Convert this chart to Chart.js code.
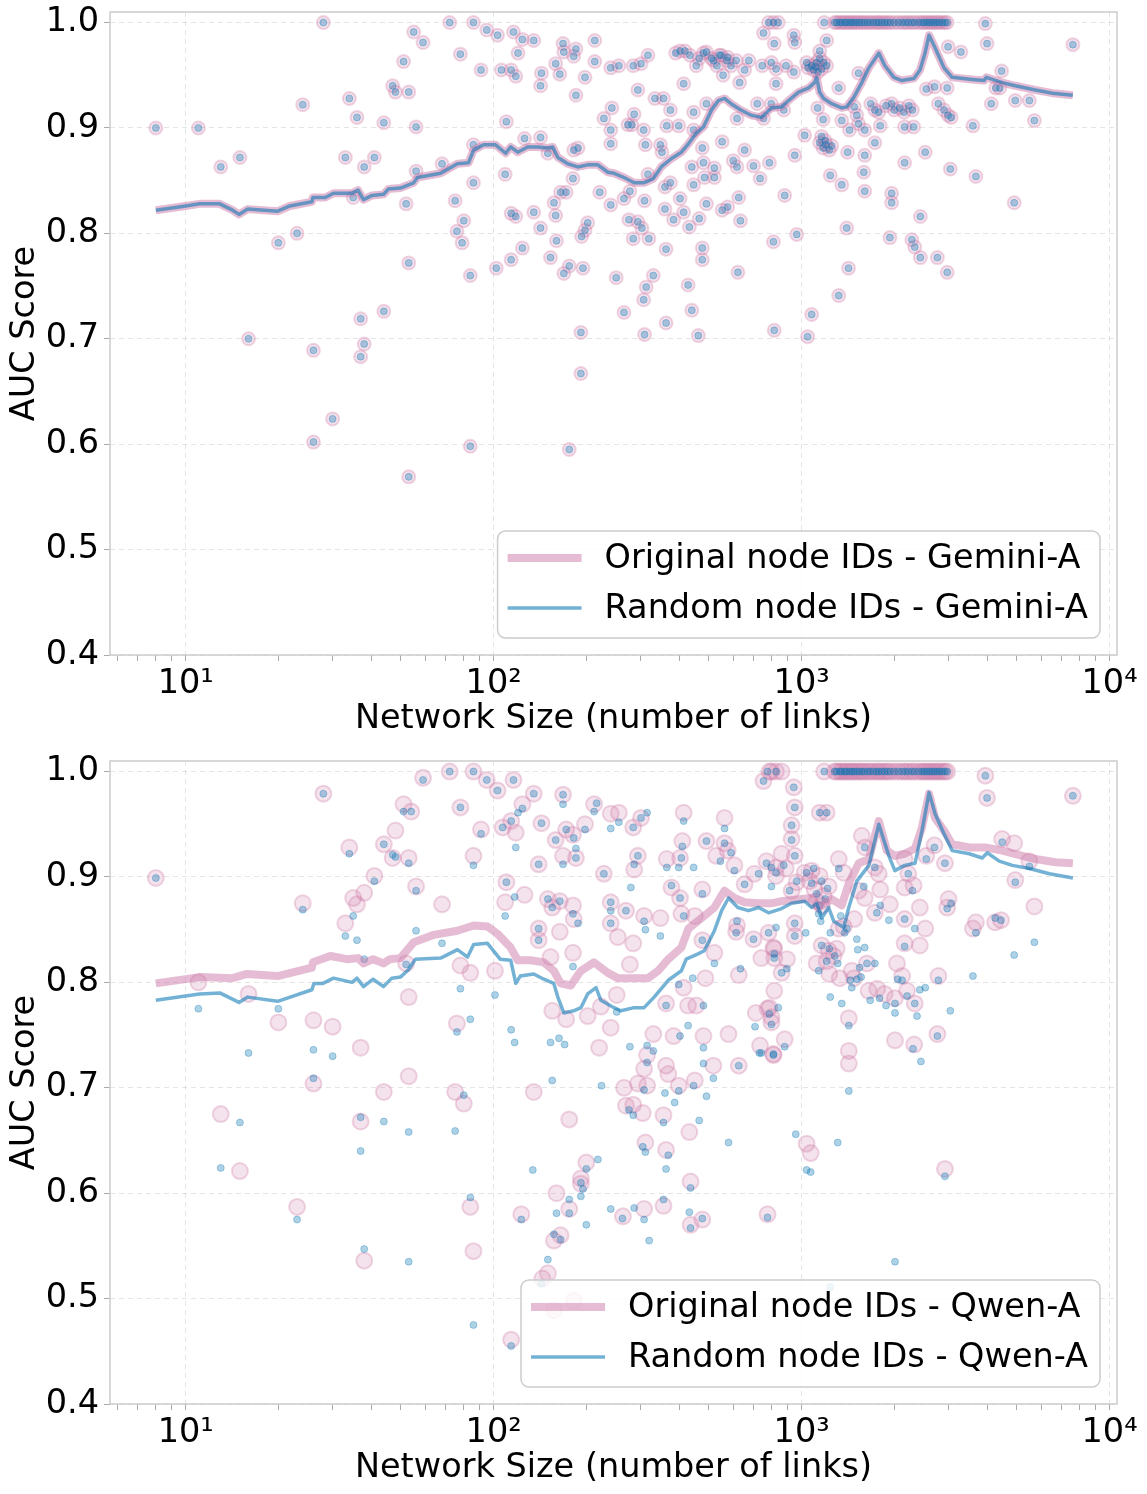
<!DOCTYPE html>
<html>
<head>
<meta charset="utf-8">
<script src="https://cdn.jsdelivr.net/npm/chart.js@4.4.1/dist/chart.umd.min.js"></script>
<style>
  html, body { margin: 0; padding: 0; background: #fff; }
  #wrap { position: relative; width: 1147px; height: 1494px; }
  canvas { position: absolute; left: 0; }
</style>
</head>
<body>
<div id="wrap">
  <canvas id="gemini" width="1147" height="747" style="top:0"></canvas>
  <canvas id="qwen" width="1147" height="747" style="top:747px"></canvas>
</div>
<script>
// ---- axis ticks ----
const xTicks = [6, 7, 8, 9, 10, 20, 30, 40, 50, 60, 70, 80, 90, 100, 200, 300, 400, 500, 600, 700, 800, 900,
  1000, 2000, 3000, 4000, 5000, 6000, 7000, 8000, 9000, 10000];
const xTickLabels = { 10: '10¹', 100: '10²', 1000: '10³', 10000: '10⁴' };
const yTicks = [0.4, 0.5, 0.6, 0.7, 0.8, 0.9, 1.0];

// networks that reach AUC = 1.0 (both models)
const perfectSize = [1280, 1300, 1330, 1350, 1380, 1400, 1430, 1455, 1480, 1510,
  1540, 1570, 1600, 1640, 1670, 1710, 1750, 1780, 1820, 1860,
  1900, 1940, 2000, 2060, 2120, 2170, 2220, 2280, 2330, 2400,
  2460, 2500, 2550, 2600, 2650, 2700, 2750, 2800, 2860, 2920, 2970];
const perfectAuc = [1, 1, 1, 1, 1, 1, 1, 1, 1, 1,
  1, 1, 1, 1, 1, 1, 1, 1, 1, 1,
  1, 1, 1, 1, 1, 1, 1, 1, 1, 1,
  1, 1, 1, 1, 1, 1, 1, 1, 1, 1, 1];

// ---- Gemini-A (original and random IDs give the same scores) ----
const gemSize = [8, 11, 13, 15, 16, 20, 23, 24, 26, 26,
  28, 30, 33, 34, 35, 36, 37, 38, 38, 37,
  41, 44, 44, 47, 48, 51, 52, 53, 53, 55,
  53, 56, 56, 59, 68, 72, 75, 76, 78, 79,
  80, 84, 84, 86, 86, 86, 91, 95, 102, 103,
  106, 109, 110, 114, 118, 114, 114, 116, 118, 120,
  124, 124, 126, 135, 135, 142, 142, 143, 142, 150,
  153, 157, 159, 159, 160, 164, 165, 172, 168, 169,
  182, 185, 169, 176, 176, 181, 182, 188, 185, 192,
  192, 195, 193, 202, 198, 198, 213, 213, 221, 228,
  240, 240, 240, 242, 240, 255, 250, 265, 265, 273,
  281, 275, 277, 284, 286, 284, 294, 294, 303, 301,
  317, 307, 311, 309, 317, 319, 307, 313, 309, 330,
  334, 356, 348, 352, 360, 384, 363, 363, 375, 360,
  375, 365, 399, 390, 403, 414, 403, 414, 432, 428,
  440, 440, 446, 446, 446, 462, 465, 476, 480, 476,
  476, 484, 491, 491, 480, 510, 541, 575, 521, 521,
  552, 552, 575, 556, 600, 617, 617, 625, 633, 621,
  629, 653, 653, 674, 698, 718, 733, 752, 752, 781,
  810, 840, 786, 810, 815, 815, 826, 745, 797, 875,
  881, 950, 964, 943, 950, 890, 943, 1023, 1046, 1078,
  1038, 1078, 1119, 1162, 1206, 1094, 1145, 1145, 1184, 1206,
  1127, 1175, 1145, 1193, 1230, 1252, 1175, 1239, 1320, 1350,
  1320, 1401, 1420, 1410, 1350, 1430, 1482, 1511, 1531, 1531,
  1592, 1603, 1603, 1603, 1729, 1677, 1780, 1729, 1800, 1880,
  1960, 2000, 2080, 2150, 2230, 2290, 1960, 1960, 1935, 2160,
  2160, 2310, 2280, 2330, 2430, 2430, 2520, 2540, 2700, 2760,
  2780, 2900, 2990, 3060, 2970, 2990, 2970, 3040, 3290, 3600,
  3680, 3950, 4000, 4130, 4270, 4400, 4460, 4900, 4940, 5490,
  5700, 7600, 418, 434, 465, 491, 517, 548, 571, 590,
  613, 455, 531, 798, 826, 1050, 1110, 1180, 1130, 1200,
  1160].concat(perfectSize);
const gemAuc = [0.900, 0.900, 0.863, 0.872, 0.700, 0.791, 0.800, 0.922, 0.689, 0.602,
  1.0, 0.624, 0.872, 0.928, 0.834, 0.910, 0.719, 0.863, 0.695, 0.683,
  0.872, 0.905, 0.726, 0.940, 0.934, 0.963, 0.828, 0.772, 0.569, 0.991,
  0.934, 0.901, 0.859, 0.981, 0.866, 1.0, 0.831, 0.802, 0.970, 0.791,
  0.812, 0.760, 0.598, 0.884, 1.0, 0.848, 0.955, 0.993, 0.767, 0.988,
  0.955, 0.856, 0.906, 0.819, 0.816, 0.775, 0.955, 0.991, 0.949, 0.971,
  0.984, 0.786, 0.890, 0.983, 0.820, 0.805, 0.940, 0.952, 0.891, 0.876,
  0.777, 0.829, 0.817, 0.961, 0.793, 0.951, 0.839, 0.839, 0.980, 0.972,
  0.968, 0.975, 0.762, 0.769, 0.595, 0.852, 0.879, 0.881, 0.931, 0.706,
  0.667, 0.767, 0.797, 0.810, 0.803, 0.948, 0.983, 0.963, 0.839, 0.909,
  0.827, 0.898, 0.885, 0.919, 0.957, 0.959, 0.758, 0.725, 0.833, 0.903,
  0.903, 0.813, 0.840, 0.795, 0.913, 0.959, 0.936, 0.811, 0.805, 0.961,
  0.969, 0.898, 0.884, 0.831, 0.856, 0.795, 0.737, 0.749, 0.704, 0.760,
  0.928, 0.928, 0.884, 0.877, 0.823, 0.813, 0.785, 0.715, 0.917, 0.844,
  0.848, 0.902, 0.902, 0.971, 0.973, 0.942, 0.833, 0.820, 0.806, 0.751,
  0.727, 0.863, 0.915, 0.846, 0.898, 0.703, 0.814, 0.881, 0.867, 0.786,
  0.775, 0.853, 0.828, 0.923, 0.971, 0.966, 0.969, 0.967, 0.862, 0.853,
  0.887, 0.822, 0.825, 0.950, 0.869, 0.863, 0.909, 0.834, 0.812, 0.763,
  0.943, 0.879, 0.955, 0.964, 0.864, 0.923, 0.852, 0.990, 0.909, 1.0,
  1.0, 1.0, 0.867, 0.792, 0.708, 0.980, 0.942, 0.959, 0.923, 0.917,
  0.836, 0.874, 0.799, 0.988, 0.981, 0.959, 0.953, 0.893, 0.702, 0.723,
  0.962, 0.959, 0.962, 0.956, 0.959, 0.955, 0.966, 0.973, 1.0, 0.983,
  0.919, 0.908, 0.886, 0.888, 0.879, 0.883, 0.881, 0.855, 0.938, 0.846,
  0.741, 0.805, 0.767, 0.877, 0.907, 0.898, 0.920, 0.912, 0.904, 0.952,
  0.858, 0.874, 0.840, 0.898, 0.886, 0.923, 0.915, 0.917, 0.902, 0.921,
  0.923, 0.917, 0.919, 0.915, 0.921, 0.917, 0.838, 0.829, 0.796, 0.867,
  0.901, 0.901, 0.794, 0.787, 0.816, 0.777, 0.877, 0.937, 0.939, 0.777,
  0.923, 0.917, 0.912, 0.910, 0.938, 0.977, 0.763, 0.861, 0.972, 0.902,
  0.854, 0.999, 0.980, 0.923, 0.938, 0.938, 0.954, 0.829, 0.926, 0.926,
  0.907, 0.979, 0.973, 0.969, 0.966, 0.972, 0.964, 0.969, 0.964, 0.959,
  0.964, 0.959, 0.959, 0.962, 0.956, 0.957, 0.958, 0.962, 0.953, 0.884,
  0.892].concat(perfectAuc);

// running average (shared by both Gemini curves)
const gemLineSize = [8, 10, 11.1, 12.9, 14.2, 14.9, 15.9, 19.9, 21.8, 25.7,
  25.9, 28.4, 30.2, 34.7, 36.3, 37.8, 40.3, 43.9, 45.5, 49.8,
  55, 56.6, 67.3, 76.3, 82.9, 86.1, 92.8, 101.5, 109.4, 113.6,
  119.7, 129, 139, 150, 155.6, 161.6, 174, 187.7, 202, 218,
  235, 246, 265, 286, 308, 330, 350, 378, 407, 429,
  455, 480, 510, 537, 562, 590, 635, 685, 740, 798,
  861, 907, 978, 1054, 1102, 1119, 1144, 1179, 1252, 1350,
  1401, 1477, 1568, 1653, 1781, 1864, 1993, 2117, 2316, 2424,
  2516, 2593, 2712, 2900, 3082, 3580, 3917, 3977, 4484, 4942,
  5743, 6525, 7600];
const gemLineAuc = [0.822, 0.826, 0.828, 0.828, 0.822, 0.818, 0.823, 0.821, 0.826, 0.830,
  0.834, 0.834, 0.838, 0.838, 0.841, 0.832, 0.836, 0.837, 0.842, 0.843,
  0.848, 0.853, 0.857, 0.866, 0.867, 0.879, 0.884, 0.884, 0.876, 0.882,
  0.877, 0.882, 0.882, 0.881, 0.882, 0.872, 0.866, 0.863, 0.865, 0.865,
  0.858, 0.857, 0.853, 0.848, 0.848, 0.852, 0.863, 0.871, 0.877, 0.885,
  0.895, 0.901, 0.917, 0.926, 0.928, 0.923, 0.917, 0.912, 0.910, 0.919,
  0.920, 0.926, 0.934, 0.938, 0.943, 0.948, 0.934, 0.928, 0.923, 0.919,
  0.920, 0.929, 0.943, 0.957, 0.971, 0.959, 0.948, 0.945, 0.947, 0.955,
  0.971, 0.988, 0.976, 0.957, 0.948, 0.946, 0.945, 0.948, 0.943, 0.940,
  0.936, 0.933, 0.931];

// ---- Qwen-A ----
const qwenOrigSize = [8, 11, 13, 16, 15, 20, 23, 24, 26, 26,
  28, 30, 33, 34, 35, 36, 37, 38, 37, 38,
  41, 44, 44, 47, 48, 51, 53, 52, 53, 53,
  54, 56, 59, 68, 72, 75, 78, 78, 76, 80,
  84, 84, 86, 86, 86, 91, 95, 101, 103, 107,
  110, 109, 116, 114, 118, 114, 123, 124, 126, 135,
  135, 140, 140, 140, 143, 150, 150, 144, 153, 155,
  155, 157, 159, 160, 164, 164, 165, 168, 168, 172,
  172, 176, 176, 181, 185, 181, 182, 181, 182, 157,
  192, 192, 200, 198, 202, 212, 223, 220, 228, 240,
  255, 240, 240, 253, 269, 240, 251, 265, 269, 263,
  277, 284, 284, 286, 294, 301, 284, 305, 294, 315,
  308, 308, 315, 308, 311, 330, 348, 363, 363, 369,
  356, 363, 356, 384, 378, 365, 399, 403, 407, 410,
  403, 414, 428, 414, 432, 436, 436, 450, 450, 455,
  476, 476, 491, 480, 517, 487, 476, 521, 562, 562,
  528, 575, 605, 625, 579, 625, 617, 613, 653, 702,
  698, 710, 733, 786, 798, 810, 781, 810, 815, 826,
  798, 752, 775, 861, 769, 826, 888, 964, 928, 943,
  950, 928, 928, 950, 786, 826, 861, 815, 775, 798,
  861, 896, 815, 950, 950, 740, 810, 881, 1145, 1206,
  1023, 1062, 1102, 1145, 1179, 1224, 1119, 1078, 1162, 1320,
  1370, 1568, 1608, 1729, 1780, 1531, 1800, 1603, 1729, 1935,
  1482, 1320, 1370, 2160, 2220, 2160, 2310, 2420, 2540, 2700,
  2920, 2520, 2160, 3000, 2970, 3680, 3600, 4250, 4440, 5700,
  4940, 4480, 4900, 5490, 2160, 2420, 2040, 2120, 2780, 2330,
  2200, 2010, 1860, 1650, 1760, 2010, 2320, 2760, 1224, 1162,
  1271, 1206, 1300, 1119, 1230, 1330, 1455, 1480, 1630, 1423,
  1423, 1423, 2920, 3950, 4000, 7600, 1184, 1038, 1070].concat(perfectSize);
const qwenOrigAuc = [0.899, 0.800, 0.675, 0.789, 0.621, 0.762, 0.587, 0.875, 0.764, 0.704,
  0.979, 0.758, 0.856, 0.928, 0.880, 0.874, 0.738, 0.885, 0.668, 0.536,
  0.901, 0.931, 0.696, 0.918, 0.944, 0.969, 0.711, 0.818, 0.786, 0.918,
  0.962, 0.891, 0.994, 0.874, 1.0, 0.696, 0.966, 0.816, 0.761, 0.685,
  0.809, 0.587, 0.545, 1.0, 0.920, 0.945, 0.992, 0.811, 0.982, 0.947,
  0.895, 0.876, 0.992, 0.953, 0.942, 0.461, 0.580, 0.969, 0.883, 0.979,
  0.696, 0.912, 0.851, 0.840, 0.951, 0.879, 0.524, 0.519, 0.824, 0.871,
  0.773, 0.555, 0.935, 0.600, 0.877, 0.848, 0.560, 0.920, 0.978, 0.945,
  0.765, 0.670, 0.585, 0.940, 0.918, 0.873, 0.860, 0.828, 0.498, 0.489,
  0.614, 0.609, 0.629, 0.950, 0.768, 0.969, 0.777, 0.738, 0.903, 0.960,
  0.961, 0.876, 0.856, 0.843, 0.868, 0.757, 0.788, 0.700, 0.683, 0.578,
  0.817, 0.947, 0.837, 0.907, 0.920, 0.956, 0.684, 0.676, 0.704, 0.702,
  0.863, 0.718, 0.731, 0.585, 0.648, 0.751, 0.861, 0.780, 0.721, 0.713,
  0.674, 0.641, 0.588, 0.749, 0.890, 0.917, 0.702, 0.880, 0.865, 0.934,
  0.918, 0.961, 0.778, 0.795, 0.658, 0.611, 0.570, 0.863, 0.707, 0.778,
  0.840, 0.888, 0.934, 0.749, 0.721, 0.804, 0.575, 0.828, 0.956, 0.932,
  0.920, 0.925, 0.911, 0.807, 0.751, 0.721, 0.854, 0.848, 0.893, 0.903,
  0.841, 0.771, 0.740, 0.776, 0.762, 0.731, 0.847, 0.833, 0.823, 0.909,
  1.0, 0.991, 0.580, 0.922, 0.915, 0.901, 0.908, 0.895, 0.887, 0.985,
  0.966, 0.949, 0.936, 0.920, 1.0, 1.0, 1.0, 0.792, 0.775, 0.767,
  0.809, 0.822, 0.832, 0.856, 0.844, 0.823, 0.732, 0.746, 0.961, 0.961,
  0.904, 0.896, 0.888, 0.901, 0.882, 0.891, 0.877, 0.906, 0.873, 0.917,
  0.904, 0.939, 0.928, 0.909, 0.903, 0.887, 0.888, 0.880, 0.866, 0.874,
  0.860, 0.851, 0.853, 0.917, 0.903, 0.890, 0.892, 0.871, 0.920, 0.930,
  0.913, 0.851, 0.860, 0.879, 0.871, 0.857, 0.851, 0.857, 0.859, 0.872,
  0.897, 0.936, 0.932, 0.915, 0.837, 0.835, 0.818, 0.806, 0.806, 0.780,
  0.792, 0.785, 0.789, 0.792, 0.794, 0.745, 0.741, 0.751, 0.830, 0.835,
  0.825, 0.820, 0.832, 0.818, 0.808, 0.804, 0.811, 0.804, 0.818, 0.766,
  0.735, 0.723, 0.623, 0.996, 0.975, 0.977, 1.0, 0.647, 0.638].concat(perfectAuc);

const qwenRandSize = [8, 11, 13, 15, 16, 20, 23, 24, 26, 26,
  28, 30, 33, 34, 35, 36, 38, 37, 37, 38,
  41, 44, 44, 47, 48, 51, 53, 53, 52, 53,
  54, 56, 56, 59, 68, 72, 75, 78, 78, 76,
  80, 84, 84, 86, 86, 86, 91, 95, 101, 103,
  107, 110, 109, 117, 118, 116, 114, 120, 114, 117,
  114, 123, 124, 135, 134, 140, 140, 140, 143, 150,
  150, 143, 155, 153, 163, 170, 155, 157, 165, 159,
  160, 164, 168, 168, 168, 172, 176, 176, 182, 185,
  185, 181, 188, 181, 192, 195, 192, 200, 200, 218,
  198, 216, 212, 228, 224, 240, 255, 240, 240, 240,
  269, 251, 275, 284, 262, 240, 286, 308, 284, 277,
  286, 294, 279, 301, 315, 308, 311, 348, 363, 315,
  315, 330, 308, 360, 356, 305, 311, 369, 363, 320,
  356, 387, 399, 446, 403, 378, 365, 403, 414, 410,
  407, 399, 414, 399, 428, 432, 436, 436, 465, 491,
  446, 476, 476, 491, 480, 480, 480, 517, 443, 476,
  521, 562, 562, 545, 590, 605, 633, 625, 617, 613,
  653, 725, 698, 706, 729, 786, 798, 810, 781, 815,
  798, 775, 826, 752, 840, 579, 775, 861, 896, 815,
  826, 950, 950, 1031, 810, 881, 740, 943, 950, 928,
  928, 950, 769, 826, 875, 964, 914, 798, 957, 1038,
  1070, 1310, 1423, 2010, 1239, 2920, 1038, 1078, 1119, 1162,
  1193, 1094, 1145, 1214, 1145, 1206, 1136, 1153, 1239, 1340,
  1380, 1401, 1162, 1230, 1281, 1206, 1310, 1136, 1543, 1511,
  1440, 1560, 1630, 1729, 1455, 1511, 1522, 1603, 1592, 1320,
  1603, 1729, 1800, 1755, 2220, 2290, 2540, 2700, 2920, 2330,
  2160, 1920, 3060, 2970, 3680, 4250, 4440, 4900, 5700, 3600,
  4940, 4480, 5490, 2160, 2050, 2120, 2780, 2520, 2420, 2330,
  2370, 2200, 2010, 2010, 1790, 1880, 1670, 2300, 2440, 2760,
  3040, 1239, 1350, 1423, 3950, 4000, 7600, 1184].concat(perfectSize);
const qwenRandAuc = [0.899, 0.775, 0.624, 0.667, 0.733, 0.775, 0.575, 0.869, 0.736, 0.709,
  0.979, 0.730, 0.844, 0.922, 0.863, 0.840, 0.822, 0.672, 0.640, 0.547,
  0.896, 0.931, 0.668, 0.921, 0.919, 0.962, 0.658, 0.535, 0.817, 0.913,
  0.962, 0.887, 0.849, 0.992, 0.837, 1.0, 0.659, 0.966, 0.794, 0.753,
  0.693, 0.765, 0.596, 0.475, 1.0, 0.911, 0.941, 0.992, 0.788, 0.982,
  0.947, 0.895, 0.863, 0.881, 0.928, 0.992, 0.953, 0.961, 0.755, 0.743,
  0.455, 0.575, 0.965, 0.979, 0.622, 0.912, 0.851, 0.840, 0.951, 0.879,
  0.537, 0.514, 0.707, 0.743, 0.747, 0.741, 0.871, 0.561, 0.556, 0.935,
  0.581, 0.877, 0.912, 0.978, 0.969, 0.945, 0.594, 0.581, 0.937, 0.927,
  0.918, 0.865, 0.856, 0.815, 0.610, 0.604, 0.597, 0.623, 0.570, 0.632,
  0.945, 0.970, 0.962, 0.903, 0.702, 0.946, 0.952, 0.876, 0.868, 0.856,
  0.868, 0.772, 0.679, 0.674, 0.576, 0.585, 0.586, 0.575, 0.947, 0.739,
  0.912, 0.920, 0.890, 0.956, 0.961, 0.858, 0.850, 0.844, 0.778, 0.740,
  0.724, 0.735, 0.698, 0.695, 0.667, 0.644, 0.639, 0.636, 0.623, 0.555,
  0.594, 0.686, 0.697, 0.702, 0.749, 0.892, 0.909, 0.880, 0.863, 0.929,
  0.918, 0.909, 0.953, 0.798, 0.759, 0.582, 0.605, 0.567, 0.669, 0.692,
  0.909, 0.884, 0.840, 0.934, 0.778, 0.738, 0.723, 0.709, 0.804, 0.576,
  0.818, 0.946, 0.932, 0.915, 0.923, 0.906, 0.813, 0.721, 0.858, 0.847,
  0.893, 0.903, 0.841, 0.758, 0.733, 0.770, 0.760, 0.731, 0.847, 0.823,
  0.909, 1.0, 1.0, 0.991, 0.776, 0.648, 0.577, 0.809, 0.813, 0.827,
  0.852, 0.856, 0.844, 0.847, 0.732, 0.739, 0.733, 0.985, 0.966, 0.949,
  0.935, 0.920, 0.913, 0.904, 0.911, 0.896, 0.887, 0.891, 0.656, 0.622,
  0.620, 0.648, 0.697, 0.535, 0.511, 0.616, 0.904, 0.894, 0.884, 0.896,
  0.879, 0.908, 0.873, 0.889, 0.961, 0.961, 0.865, 0.858, 0.847, 0.863,
  0.847, 0.851, 0.835, 0.832, 0.825, 0.820, 0.818, 0.811, 0.814, 0.803,
  0.802, 0.805, 0.818, 0.818, 0.795, 0.841, 0.831, 0.833, 0.891, 0.908,
  0.928, 0.909, 0.873, 0.866, 0.903, 0.887, 0.917, 0.928, 0.913, 0.851,
  0.860, 0.859, 0.875, 0.870, 0.847, 0.861, 0.859, 0.826, 0.838, 0.806,
  0.895, 0.933, 0.910, 0.834, 0.803, 0.802, 0.802, 0.795, 0.793, 0.780,
  0.768, 0.787, 0.780, 0.771, 0.785, 0.778, 0.783, 0.737, 0.725, 0.749,
  0.773, 0.786, 0.780, 0.759, 0.996, 0.975, 0.977, 1.0].concat(perfectAuc);

const qwenOrigLineSize = [8, 11.1, 14.2, 15.8, 19.9, 25.7, 25.9, 29.5, 33.4, 36.3,
  37.8, 40.6, 43.9, 46.1, 49.8, 55, 63.7, 76.3, 86.1, 95.5,
  103, 113.6, 119.7, 132, 145.5, 156.8, 165, 178, 192, 211.7,
  235, 253, 286, 317, 342, 369, 407, 429, 473, 521,
  562, 605, 653, 725, 798, 861, 1000, 1078, 1136, 1252,
  1350, 1423, 1533, 1653, 1781, 1892, 2008, 2160, 2335, 2460,
  2593, 2712, 2900, 3082, 3500, 3947, 4484, 5210, 5743, 6670, 7600];
const qwenOrigLineAuc = [0.799, 0.805, 0.804, 0.808, 0.806, 0.814, 0.819, 0.825, 0.822, 0.823,
  0.818, 0.822, 0.818, 0.822, 0.823, 0.838, 0.845, 0.849, 0.854, 0.853,
  0.846, 0.833, 0.821, 0.821, 0.819, 0.811, 0.799, 0.797, 0.811, 0.819,
  0.809, 0.804, 0.804, 0.804, 0.811, 0.822, 0.833, 0.851, 0.861, 0.871,
  0.887, 0.880, 0.876, 0.875, 0.875, 0.877, 0.879, 0.880, 0.871, 0.879,
  0.873, 0.894, 0.913, 0.917, 0.953, 0.925, 0.920, 0.922, 0.927, 0.947,
  0.979, 0.956, 0.944, 0.931, 0.928, 0.928, 0.925, 0.920, 0.917, 0.914, 0.913];

const qwenRandLineSize = [8, 11.1, 12.9, 14.9, 15.9, 19.9, 25.7, 26.1, 27.9, 30.2,
  34.7, 36, 37.8, 40.6, 43.9, 46.7, 49.8, 52.9, 55.7, 67.3,
  76.3, 82.3, 86.1, 95.5, 105, 113.6, 118, 122, 135, 145.5,
  156.8, 161.6, 169, 182, 192, 202, 215, 223, 246, 259,
  286, 308, 332, 369, 407, 422, 461, 483, 521, 550,
  579, 621, 672, 725, 781, 861, 928, 1023, 1078, 1119,
  1162, 1224, 1271, 1370, 1423, 1511, 1653, 1781, 1920, 2008,
  2160, 2335, 2460, 2593, 2712, 2900, 3082, 3500, 3859, 4007,
  4383, 4833, 5489, 6380, 7600];
const qwenRandLineAuc = [0.783, 0.789, 0.790, 0.781, 0.786, 0.782, 0.793, 0.799, 0.799, 0.804,
  0.800, 0.804, 0.796, 0.803, 0.796, 0.804, 0.805, 0.812, 0.822, 0.823,
  0.831, 0.824, 0.836, 0.837, 0.822, 0.821, 0.799, 0.806, 0.808, 0.803,
  0.799, 0.786, 0.771, 0.773, 0.776, 0.789, 0.795, 0.783, 0.776, 0.773,
  0.776, 0.776, 0.786, 0.802, 0.811, 0.822, 0.827, 0.830, 0.849, 0.868,
  0.880, 0.871, 0.868, 0.871, 0.866, 0.870, 0.875, 0.877, 0.871, 0.875,
  0.861, 0.871, 0.858, 0.852, 0.871, 0.896, 0.911, 0.950, 0.920, 0.906,
  0.911, 0.913, 0.944, 0.980, 0.960, 0.941, 0.925, 0.922, 0.918, 0.923,
  0.915, 0.911, 0.908, 0.903, 0.899];

// ---- styling ----
const FONT = "'DejaVu Sans', sans-serif";
const FSIZE = 33.5;
const PINK = '204,121,167';
const BLUE = '0,114,178';
const GRID = 'rgba(0,0,0,0.1)';

function toPoints(xs, ys) {
  return xs.map((x, i) => ({ x: x, y: ys[i] }));
}
function isDecade(v) {
  const l = Math.log10(v);
  return Math.abs(l - Math.round(l)) < 1e-9;
}

// light gray box round the plot area
const framePlugin = {
  id: 'frame',
  afterDatasetsDraw(chart) {
    const { ctx, chartArea: a } = chart;
    ctx.save();
    ctx.strokeStyle = '#cccccc';
    ctx.lineWidth = 1.5;
    ctx.strokeRect(a.left, a.top, a.right - a.left, a.bottom - a.top);
    ctx.restore();
  }
};

// matplotlib-like legend in the lower right corner
const boxLegend = {
  id: 'boxLegend',
  afterDraw(chart, args, opts) {
    const { ctx, chartArea: a } = chart;
    const items = opts.order.map(i => chart.data.datasets[i]);
    ctx.save();
    ctx.font = FSIZE + 'px ' + FONT;
    const textW = Math.max(...items.map(d => ctx.measureText(d.label).width));
    const w = 107 + textW + 12, h = 107, r = 8;
    const x = a.right - 17 - w, y = a.bottom - 17 - h;
    ctx.beginPath();
    ctx.moveTo(x + r, y);
    ctx.arcTo(x + w, y, x + w, y + h, r);
    ctx.arcTo(x + w, y + h, x, y + h, r);
    ctx.arcTo(x, y + h, x, y, r);
    ctx.arcTo(x, y, x + w, y, r);
    ctx.closePath();
    ctx.fillStyle = 'rgba(255,255,255,0.8)';
    ctx.fill();
    ctx.strokeStyle = '#cccccc';
    ctx.lineWidth = 1.5;
    ctx.stroke();
    items.forEach((d, i) => {
      const cy = y + 27 + i * 50;
      ctx.beginPath();
      ctx.moveTo(x + 10, cy);
      ctx.lineTo(x + 84, cy);
      ctx.strokeStyle = d.borderColor;
      ctx.lineWidth = d.borderWidth;
      ctx.stroke();
      ctx.fillStyle = '#000';
      ctx.textBaseline = 'middle';
      ctx.fillText(d.label, x + 107, cy + 1);
    });
    ctx.restore();
  }
};

function makeChart(id, model, sets, padTop, axisH, titlePad) {
  const datasets = [
    { label: 'Random node IDs - ' + model, data: toPoints(sets.randLineX, sets.randLineY),
      showLine: true, pointRadius: 0, borderColor: 'rgba(' + BLUE + ',0.55)', borderWidth: 3.5,
      borderJoinStyle: 'round', order: 0 },
    { label: 'Original node IDs - ' + model, data: toPoints(sets.origLineX, sets.origLineY),
      showLine: true, pointRadius: 0, borderColor: 'rgba(' + PINK + ',0.5)', borderWidth: 8,
      borderJoinStyle: 'round', order: 1 },
    { label: 'rand pts', data: toPoints(sets.randX, sets.randY), pointRadius: sets.blueR,
      backgroundColor: 'rgba(' + BLUE + ',0.32)', borderColor: 'rgba(' + BLUE + ',0.3)',
      borderWidth: 1, order: 2 },
    { label: 'orig pts', data: toPoints(sets.origX, sets.origY), pointRadius: sets.pinkR,
      backgroundColor: 'rgba(' + PINK + ',0.22)', borderColor: 'rgba(' + PINK + ',0.3)',
      borderWidth: 2, order: 3 }
  ];
  return new Chart(document.getElementById(id), {
    type: 'scatter',
    data: { datasets },
    options: {
      responsive: false,
      animation: false,
      devicePixelRatio: 1,
      events: [],
      layout: { padding: { top: padTop, right: 30, left: 0, bottom: 0 } },
      plugins: {
        legend: { display: false },
        tooltip: { enabled: false },
        boxLegend: { order: [1, 0] }
      },
      scales: {
        x: {
          type: 'logarithmic',
          min: 5.68,
          max: 10570,
          afterBuildTicks: axis => { axis.ticks = xTicks.map(v => ({ value: v })); },
          afterFit: axis => { axis.height = axisH; axis.paddingLeft = 0; axis.paddingRight = 0; },
          ticks: {
            autoSkip: false, maxRotation: 0, padding: 3, color: '#000',
            font: { family: FONT, size: FSIZE },
            callback: v => xTickLabels[v] || ''
          },
          grid: {
            color: c => (c.tick && isDecade(c.tick.value)) ? GRID : 'rgba(0,0,0,0)',
            tickColor: '#aaaaaa', tickLength: 6, tickBorderDash: [1, 0], lineWidth: 1
          },
          border: { display: false, dash: [5, 4] },
          title: {
            display: true, text: 'Network Size (number of links)', color: '#000',
            font: { family: FONT, size: FSIZE }, padding: { top: 0, bottom: titlePad }
          }
        },
        y: {
          min: 0.4,
          max: 1.01,
          afterBuildTicks: axis => { axis.ticks = yTicks.map(v => ({ value: v })); },
          afterFit: axis => { axis.width = 110; axis.paddingTop = 0; axis.paddingBottom = 0; },
          ticks: {
            padding: 5, color: '#000', font: { family: FONT, size: FSIZE },
            callback: v => v.toFixed(1)
          },
          grid: { color: GRID, tickColor: '#aaaaaa', tickLength: 6, tickBorderDash: [1, 0], lineWidth: 1 },
          border: { display: false, dash: [5, 4] },
          title: {
            display: true, text: 'AUC Score', color: '#000',
            font: { family: FONT, size: FSIZE }, padding: { top: 5, bottom: 0 }
          }
        }
      }
    },
    plugins: [framePlugin, boxLegend]
  });
}

makeChart('gemini', 'Gemini-A', {
  origX: gemSize, origY: gemAuc, randX: gemSize, randY: gemAuc,
  origLineX: gemLineSize, origLineY: gemLineAuc, randLineX: gemLineSize, randLineY: gemLineAuc,
  pinkR: 6.5, blueR: 3.5
}, 12, 92, 8);

makeChart('qwen', 'Qwen-A', {
  origX: qwenOrigSize, origY: qwenOrigAuc, randX: qwenRandSize, randY: qwenRandAuc,
  origLineX: qwenOrigLineSize, origLineY: qwenOrigLineAuc, randLineX: qwenRandLineSize, randLineY: qwenRandLineAuc,
  pinkR: 8, blueR: 3.5
}, 14, 90, 6);
</script>
</body>
</html>
